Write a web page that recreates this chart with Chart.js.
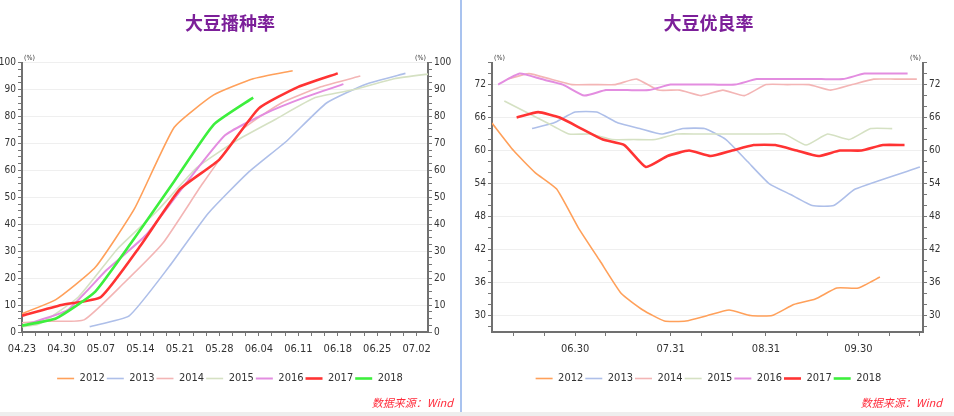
<!DOCTYPE html>
<html><head><meta charset="utf-8">
<script src="https://cdn.jsdelivr.net/npm/chart.js@4/dist/chart.umd.min.js"></script>
<style>
html,body{margin:0;padding:0;background:#fff;width:954px;height:416px;overflow:hidden;}
#left{position:absolute;left:0;top:0;width:460px;height:412px;}
#right{position:absolute;left:463px;top:0;width:491px;height:412px;}
#sep{position:absolute;left:460px;top:0;width:2px;height:412px;background:#a9c3ef;}
#strip{position:absolute;left:0;top:412px;width:954px;height:4px;background:#eeeeee;}
.src{position:absolute;top:394px;font:italic 11px "Noto Sans CJK SC",sans-serif;color:#ff2a3a;white-space:nowrap;}
</style></head>
<body>
<div id="left"><canvas id="c1" width="460" height="412"></canvas></div>
<div id="sep"></div>
<div id="right"><canvas id="c2" width="491" height="412"></canvas></div>
<div id="strip"></div>
<div class="src" style="right:501px">数据来源：Wind</div>
<div class="src" style="right:12px">数据来源：Wind</div>
<script>
// ---------- data: planting progress (%) ----------
const years = ["2012","2013","2014","2015","2016","2017","2018"];
const plantTickLabels = ["04.23","04.30","05.07","05.14","05.21","05.28","06.04","06.11","06.18","06.25","07.02"];
const plantDates2012 = ["04.22","04.29","05.06","05.13","05.20","05.27","06.03","06.10"];
const plant2012 = [6,12,24,46,76,88,94,97];
const plantDates2013 = ["05.05","05.12","05.19","05.26","06.02","06.09","06.16","06.23","06.30"];
const plant2013 = [2,6,24,44,59,71,85,92,96];
const plantDates2014 = ["04.20","04.27","05.04","05.11","05.18","05.25","06.01","06.08","06.15","06.22"];
const plant2014 = [3,4,4.5,18,33,55,75,85,91,95];
const plantDates2015 = ["04.19","04.26","05.03","05.10","05.17","05.24","05.31","06.07","06.14","06.21","06.28","07.05"];
const plant2015 = [1,3,13,31,45,61,71,79,87,90,94,96];
const plantDates2016 = ["04.24","05.01","05.08","05.15","05.22","05.29","06.05","06.12","06.19"];
const plant2016 = [3,8,23,36,55,73,81,87,92];
const plantDates2017 = ["04.23","04.30","05.07","05.14","05.21","05.28","06.04","06.11","06.18"];
const plant2017 = [6,10,13,32,53,64,83,91,96];
const plantDates2018 = ["04.22","04.29","05.06","05.13","05.20","05.27","06.03"];
const plant2018 = [2,5,15,35,56,77,87];

// ---------- data: good/excellent rating (%) ----------
const condTickLabels = ["06.30","07.31","08.31","09.30"];
const condTickDates = ["06.10","06.20","06.30","07.10","07.20","07.31","08.10","08.20","08.31","09.10","09.20","09.30","10.10","10.20"];
const condDates2012 = ["06.03","06.10","06.17","06.24","07.01","07.08","07.15","07.22","07.29","08.05","08.12","08.19","08.26","09.02","09.09","09.16","09.23","09.30","10.07"];
const cond2012 = [65,60,56,53,46,40,34,31,29,29,30,31,30,30,32,33,35,35,37];
const condDates2013 = ["06.16","06.23","06.30","07.07","07.14","07.21","07.28","08.04","08.11","08.18","08.25","09.01","09.08","09.15","09.22","09.29","10.20"];
const cond2013 = [64,65,67,67,65,64,63,64,64,62,58,54,52,50,50,53,57];
const condDates2014 = ["06.08","06.15","06.22","06.29","07.06","07.13","07.20","07.27","08.03","08.10","08.17","08.24","08.31","09.07","09.14","09.21","09.28","10.05","10.12","10.19"];
const cond2014 = [73,74,73,72,72,72,73,71,71,70,71,70,72,72,72,71,72,73,73,73];
const condDates2015 = ["06.07","06.14","06.21","06.28","07.05","07.12","07.19","07.26","08.02","08.09","08.16","08.23","08.30","09.06","09.13","09.20","09.27","10.04","10.11"];
const cond2015 = [69,67,65,63,63,62,62,62,63,63,63,63,63,63,61,63,62,64,64];
const condDates2016 = ["06.05","06.12","06.19","06.26","07.03","07.10","07.17","07.24","07.31","08.07","08.14","08.21","08.28","09.04","09.11","09.18","09.25","10.02","10.09","10.16"];
const cond2016 = [72,74,73,72,70,71,71,71,72,72,72,72,73,73,73,73,73,74,74,74];
const condDates2017 = ["06.11","06.18","06.25","07.02","07.09","07.16","07.23","07.30","08.06","08.13","08.20","08.27","09.03","09.10","09.17","09.24","10.01","10.08","10.15"];
const cond2017 = [66,67,66,64,62,61,57,59,60,59,60,61,61,60,59,60,60,61,61];
const condDates2018 = [];
const cond2018 = [];

const colors = ["#ffa05a","#aebfe9","#f3b5b5","#d5e1c3","#e38de0","#ff3333","#3def3d"];
const widths = [1.6,1.6,1.6,1.6,2,2.6,2.6];

// ---------- helpers ----------
const MD=[0,31,59,90,120,151,181,212,243,273,304,334];
function doy(s){const p=s.split('.').map(Number);return MD[p[0]-1]+p[1];}
const FONT='"Liberation Sans Narrow","DejaVu Sans Condensed",Arial,sans-serif';

function ds(i, dates, vals){
  return {label:years[i], data:dates.map((d,k)=>({x:doy(d),y:vals[k]})),
    borderColor:colors[i], backgroundColor:colors[i], borderWidth:widths[i],
    pointRadius:0, pointHoverRadius:0, tension:0.15, fill:false, clip:0, order:7-i};
}

const pctPlugin={id:'pct',afterDraw(chart){
  const c=chart.ctx,a=chart.chartArea;c.save();
  c.font='7px '+FONT;c.fillStyle='#333';c.textBaseline='bottom';
  c.textAlign='left';c.fillText('(%)',a.left+2,a.top-1);
  c.textAlign='right';c.fillText('(%)',a.right-2,a.top-1);
  c.restore();}};

function yAxis(pos,min,max,step,isLabel,width){
  return {type:'linear',position:pos,min,max,
    afterBuildTicks:s=>{const t=[];for(let v=min;v<=max+1e-9;v+=step)t.push({value:v});s.ticks=t;},
    ticks:{autoSkip:false,padding:2,color:'#333',font:{family:FONT,size:10},
      callback:v=>isLabel(v)?String(v):''},
    grid:{drawOnChartArea:pos==='left',tickLength:4,tickColor:'#777',
      color:c=>(c.tick&&isLabel(c.tick.value)&&c.tick.value>min)?'#efefef':'rgba(0,0,0,0)'},
    border:{color:'#707070',width:2},
    afterFit:s=>{s.width=width;}};
}

function xAxis(min,max,tickVals,labelMap){
  return {type:'linear',position:'bottom',min,max,
    afterBuildTicks:s=>{s.ticks=tickVals.filter(v=>v>=min&&v<=max).map(v=>({value:v}));},
    ticks:{autoSkip:false,maxRotation:0,padding:7,color:'#333',font:{family:FONT,size:11},
      callback:v=>labelMap[v]||''},
    grid:{drawOnChartArea:false,tickLength:4,tickColor:'#777',color:'#777'},
    border:{color:'#707070',width:2},
    afterFit:s=>{s.height=39;}};
}

function common(title){
  return {responsive:false,animation:false,devicePixelRatio:1,
    layout:{padding:{left:0,right:0,top:0,bottom:18}},
    plugins:{
      title:{display:true,text:title,color:'#7c1f99',font:{family:'"Noto Sans CJK SC"',size:18,weight:'bold'},padding:{top:12,bottom:29}},
      legend:{position:'bottom',labels:{usePointStyle:true,pointStyle:'line',pointStyleWidth:17,boxHeight:11,
        padding:2,color:'#333',font:{family:FONT,size:11},sort:(a,b)=>a.datasetIndex-b.datasetIndex}},
      tooltip:{enabled:false}}};
}

// ---------- left chart ----------
const plantSets=[[plantDates2012,plant2012],[plantDates2013,plant2013],[plantDates2014,plant2014],
  [plantDates2015,plant2015],[plantDates2016,plant2016],[plantDates2017,plant2017],[plantDates2018,plant2018]];
const plantTicks=[];const plantMap={};
plantTickLabels.forEach(l=>{const v=doy(l);plantMap[v]=l;plantTicks.push(v,v+7/3,v+14/3);});
const o1=common('大豆播种率');
o1.scales={x:xAxis(doy('04.23'),doy('07.04'),plantTicks,plantMap),
  y:yAxis('left',0,100,2.5,v=>Math.abs(v%10)<1e-9,22),
  y2:yAxis('right',0,100,2.5,v=>Math.abs(v%10)<1e-9,32)};
new Chart(document.getElementById('c1'),{type:'line',
  data:{datasets:plantSets.map((p,i)=>ds(i,p[0],p[1]))},options:o1,plugins:[pctPlugin]});

// ---------- right chart ----------
const condSets=[[condDates2012,cond2012],[condDates2013,cond2013],[condDates2014,cond2014],
  [condDates2015,cond2015],[condDates2016,cond2016],[condDates2017,cond2017],[condDates2018,cond2018]];
const condMap={};condTickLabels.forEach(l=>{condMap[doy(l)]=l;});
const o2=common('大豆优良率');
const condLab=v=>v%6===0&&v>=30&&v<=72;
o2.scales={x:xAxis(doy('06.03'),doy('10.21'),condTickDates.map(doy),condMap),
  y:yAxis('left',27,76,2,condLab,29),
  y2:yAxis('right',27,76,2,condLab,31)};
o2.scales.y.afterBuildTicks=o2.scales.y2.afterBuildTicks=s=>{const t=[];for(let v=28;v<=76;v+=2)t.push({value:v});s.ticks=t;};
new Chart(document.getElementById('c2'),{type:'line',
  data:{datasets:condSets.map((p,i)=>ds(i,p[0],p[1]))},options:o2,plugins:[pctPlugin]});
</script>
</body></html>
